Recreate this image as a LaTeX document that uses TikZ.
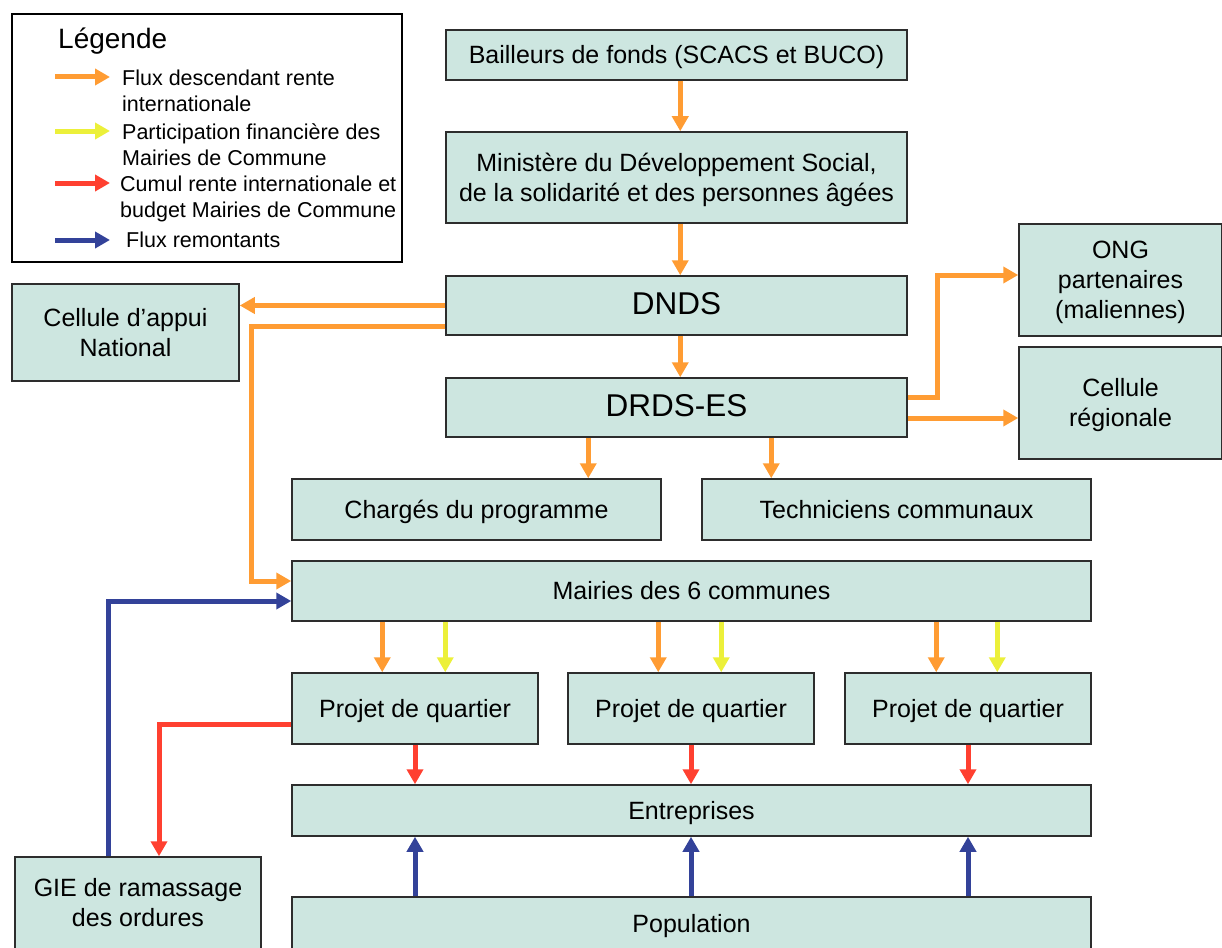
\documentclass[tikz,border=0pt]{standalone}
\usepackage{fontspec}
\setmainfont{Liberation Sans}
\usetikzlibrary{arrows.meta,calc}
\definecolor{boxfill}{RGB}{205,230,224}
\definecolor{flowor}{RGB}{255,156,51}
\definecolor{flowye}{RGB}{236,240,58}
\definecolor{flowrd}{RGB}{255,64,48}
\definecolor{flowbl}{RGB}{51,66,153}
\definecolor{edge}{RGB}{45,45,45}
% box label: lines stacked, set slightly low without changing the box size
\newcommand\bxt[1]{\raisebox{-2.5pt}[\height][\depth]{\begin{tabular}{@{}c@{}}#1\end{tabular}}}
\begin{document}
\begin{tikzpicture}[x=1pt,y=-1pt,
  box/.style={draw=edge,line width=1.5pt,fill=boxfill,inner sep=0pt,align=center,
    font=\fontsize{25}{30}\selectfont},
  bigtext/.style={font=\fontsize{31.5}{34}\selectfont},
  flow/.style={line width=5pt,-{Triangle[length=15pt,width=16pt]}},
  legtext/.style={anchor=west,inner sep=0pt,align=left,font=\fontsize{21.5}{26}\selectfont}]
\useasboundingbox (0,0) rectangle (1222,947);

% legend
\node[draw=black,line width=1.5pt,fill=white,minimum width=390pt,minimum height=248pt,inner sep=0pt] (leg) at (207,138) {};
\node[anchor=west,inner sep=0pt,font=\fontsize{28}{30}\selectfont] (legt) at (58,41.5) {Légende};
\coordinate (l1a) at (55,77);  \coordinate (l1b) at (110,77);
\coordinate (l2a) at (55,131); \coordinate (l2b) at (110,131);
\coordinate (l3a) at (55,183); \coordinate (l3b) at (110,183);
\coordinate (l4a) at (55,240); \coordinate (l4b) at (110,240);
\draw[flow,flowor] (l1a) -- (l1b);
\draw[flow,flowye] (l2a) -- (l2b);
\draw[flow,flowrd] (l3a) -- (l3b);
\draw[flow,flowbl] (l4a) -- (l4b);
\node[legtext] (lt1) at (122,90.5) {Flux descendant rente\\internationale};
\node[legtext] (lt2) at (122,144.5) {Participation financière des\\Mairies de Commune};
\node[legtext] (lt3) at (120,199) {Cumul rente internationale et\\budget Mairies de Commune};
\node[legtext] (lt4) at (126,239.5) {Flux remontants};

% boxes
\node[box,minimum width=461pt,minimum height=50pt] (bail) at (676.5,55) {\bxt{Bailleurs de fonds (SCACS et BUCO)}};
\node[box,minimum width=461pt,minimum height=91pt] (mins) at (676.5,177.5) {\bxt{Ministère du Développement Social,\\de la solidarité et des personnes âgées}};
\node[box,bigtext,minimum width=461pt,minimum height=59pt] (dnds) at (676.5,305.5) {\bxt{DNDS}};
\node[box,bigtext,minimum width=461pt,minimum height=59pt] (drds) at (676.5,407.5) {\bxt{DRDS-ES}};
\node[box,minimum width=227pt,minimum height=97pt] (cap) at (125.5,332.5) {\bxt{Cellule d’appui\\National}};
\node[box,minimum width=203pt,minimum height=112pt] (ong) at (1120.5,280) {\bxt{ONG\\partenaires\\(maliennes)}};
\node[box,minimum width=203pt,minimum height=112pt] (creg) at (1120.5,403) {\bxt{Cellule\\régionale}};
\node[box,minimum width=369pt,minimum height=61pt] (chg) at (476.5,509.5) {\bxt{Chargés du programme}};
\node[box,minimum width=389pt,minimum height=61pt] (tech) at (896.5,509.5) {\bxt{Techniciens communaux}};
\node[box,minimum width=799pt,minimum height=60pt] (mair) at (691.5,591) {\bxt{Mairies des 6 communes}};
\node[box,minimum width=246pt,minimum height=71pt] (pq1) at (415,708.5) {\bxt{Projet de quartier}};
\node[box,minimum width=246pt,minimum height=71pt] (pq2) at (691,708.5) {\bxt{Projet de quartier}};
\node[box,minimum width=246pt,minimum height=71pt] (pq3) at (968,708.5) {\bxt{Projet de quartier}};
\node[box,minimum width=799pt,minimum height=51pt] (ent) at (691.5,810.5) {\bxt{Entreprises}};
\node[box,minimum width=799pt,minimum height=54pt] (pop) at (691.5,924) {\bxt{Population}};
\node[box,minimum width=246pt,minimum height=92pt] (gie) at (138,903) {\bxt{GIE de ramassage\\des ordures}};

% descending flows
\draw[flow,flowor] ([xshift=235pt]bail.south west) -- ([xshift=235pt]mins.north west);
\draw[flow,flowor] ([xshift=235pt]mins.south west) -- ([xshift=235pt]dnds.north west);
\draw[flow,flowor] ([xshift=235pt]dnds.south west) -- ([xshift=235pt]drds.north west);
\draw[flow,flowor] (dnds.west) -- (dnds.west -| cap.east);
\draw[flow,flowor] ($(dnds.south west)+(0,-9)$) -| ($(mair.west)+(-40,-10)$) -- ($(mair.west)+(0,-10)$);
\draw[flow,flowor] ($(drds.east)+(0,-10)$) -- ++(30,0) |- ($(ong.west)+(0,-5)$);
\draw[flow,flowor] ($(drds.east)+(0,10.5)$) -- ($(creg.west)+(0,15)$);
\draw[flow,flowor] ([xshift=143pt]drds.south west) -- ([xshift=297pt]chg.north west);
\draw[flow,flowor] ([xshift=326pt]drds.south west) -- ([xshift=70pt]tech.north west);

% communes to projects
\draw[flow,flowor] ([xshift=91pt]mair.south west) -- ([xshift=91pt]pq1.north west);
\draw[flow,flowye] ([xshift=154pt]mair.south west) -- ([xshift=154pt]pq1.north west);
\draw[flow,flowor] ([xshift=367pt]mair.south west) -- ([xshift=91pt]pq2.north west);
\draw[flow,flowye] ([xshift=430pt]mair.south west) -- ([xshift=154pt]pq2.north west);
\draw[flow,flowor] ([xshift=645pt]mair.south west) -- ([xshift=92pt]pq3.north west);
\draw[flow,flowye] ([xshift=706pt]mair.south west) -- ([xshift=153pt]pq3.north west);

% projects to enterprises and GIE
\draw[flow,flowrd] (pq1.south) -- (pq1.south |- ent.north);
\draw[flow,flowrd] (pq2.south) -- (pq2.south |- ent.north);
\draw[flow,flowrd] (pq3.south) -- (pq3.south |- ent.north);
\draw[flow,flowrd] ($(pq1.west)+(0,16)$) -| ([xshift=21pt]gie.north);

% ascending flows
\draw[flow,flowbl] (pop.north -| pq1.south) -- (ent.south -| pq1.south);
\draw[flow,flowbl] (pop.north -| pq2.south) -- (ent.south -| pq2.south);
\draw[flow,flowbl] (pop.north -| pq3.south) -- (ent.south -| pq3.south);
\draw[flow,flowbl] ([xshift=-30pt]gie.north) |- ($(mair.west)+(0,10)$);
\end{tikzpicture}
\end{document}
